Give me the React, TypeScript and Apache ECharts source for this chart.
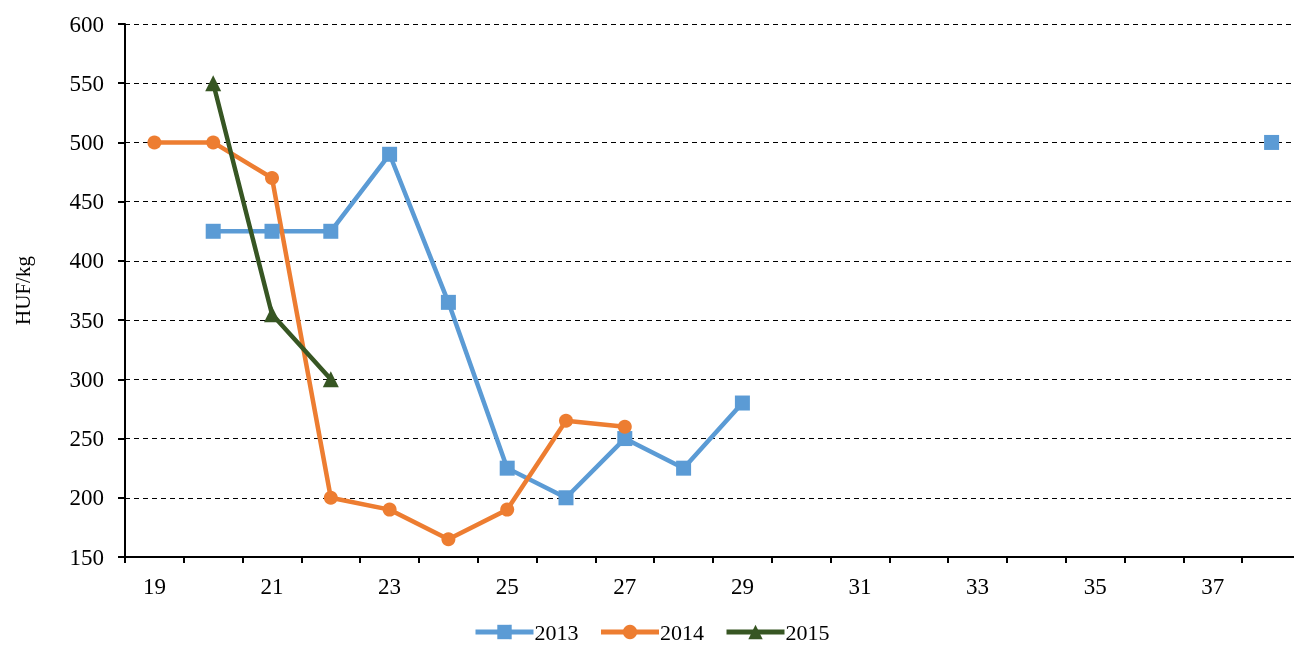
import React, { useEffect, useRef } from "react";
import * as echarts from "echarts";

const categories = ["19","20","21","22","23","24","25","26","27","28","29","30","31","32","33","34","35","36","37","38"];
const s2013 = [null, 425, 425, 425, 490, 365, 225, 200, 250, 225, 280, null, null, null, null, null, null, null, null, 500];
const s2014 = [500, 500, 470, 200, 190, 165, 190, 265, 260, null, null, null, null, null, null, null, null, null, null, null];
const s2015 = [null, 550, 355, 300, null, null, null, null, null, null, null, null, null, null, null, null, null, null, null, null];

const FONT = "'Liberation Serif', 'Times New Roman', serif";

export default function App() {
  const ref = useRef<HTMLDivElement>(null);
  useEffect(() => {
    const chart = echarts.init(ref.current!, null, { renderer: "svg" });
    const mk = (name: string, data: any[], color: string, symbol: string, size: number) => ({
      name,
      type: "line",
      data,
      symbol,
      symbolSize: size,
      showAllSymbol: true,
      connectNulls: false,
      lineStyle: { color, width: 4.5 },
      itemStyle: { color },
    });
    chart.setOption({
      animation: false,
      textStyle: { fontFamily: FONT },
      grid: { left: 125, top: 24, width: 1176, height: 533 },
      legend: {
        top: 621,
        left: 473,
        padding: 0,
        itemWidth: 58,
        itemHeight: 18,
        itemGap: 20,
        textStyle: { fontFamily: FONT, fontSize: 22, lineHeight: 22, color: "#000", padding: [0, 0, 0, -4] },
        lineStyle: { width: 5 },
        data: ["2013", "2014", "2015"],
      },
      xAxis: {
        type: "category",
        data: categories,
        boundaryGap: true,
        axisLine: { lineStyle: { color: "#000", width: 2 } },
        axisTick: { show: true, length: 6, lineStyle: { color: "#000", width: 2 }, interval: 0 },
        axisLabel: { interval: 1, fontFamily: FONT, fontSize: 23, color: "#000", margin: 18 },
        splitLine: { show: false },
      },
      yAxis: {
        type: "value",
        min: 150,
        max: 600,
        interval: 50,
        name: "HUF/kg",
        nameLocation: "middle",
        nameGap: 92,
        nameTextStyle: { fontFamily: FONT, fontSize: 21, color: "#000" },
        axisLine: { show: true, lineStyle: { color: "#000", width: 2 } },
        axisTick: { show: true, length: 7, lineStyle: { color: "#000", width: 2 } },
        axisLabel: { fontFamily: FONT, fontSize: 23, color: "#000", margin: 21 },
        splitLine: { show: true, lineStyle: { color: "#000", type: [5, 4], width: 1 } },
      },
      series: [
        mk("2013", s2013, "#5B9BD5", "rect", 15),
        mk("2014", s2014, "#ED7D31", "circle", 14),
        mk("2015", s2015, "#375623", "triangle", 16),
      ],
    });
    return () => chart.dispose();
  }, []);
  return <div ref={ref} style={{ position: "fixed", left: 0, top: 0, width: 1310, height: 645 }} />;
}
